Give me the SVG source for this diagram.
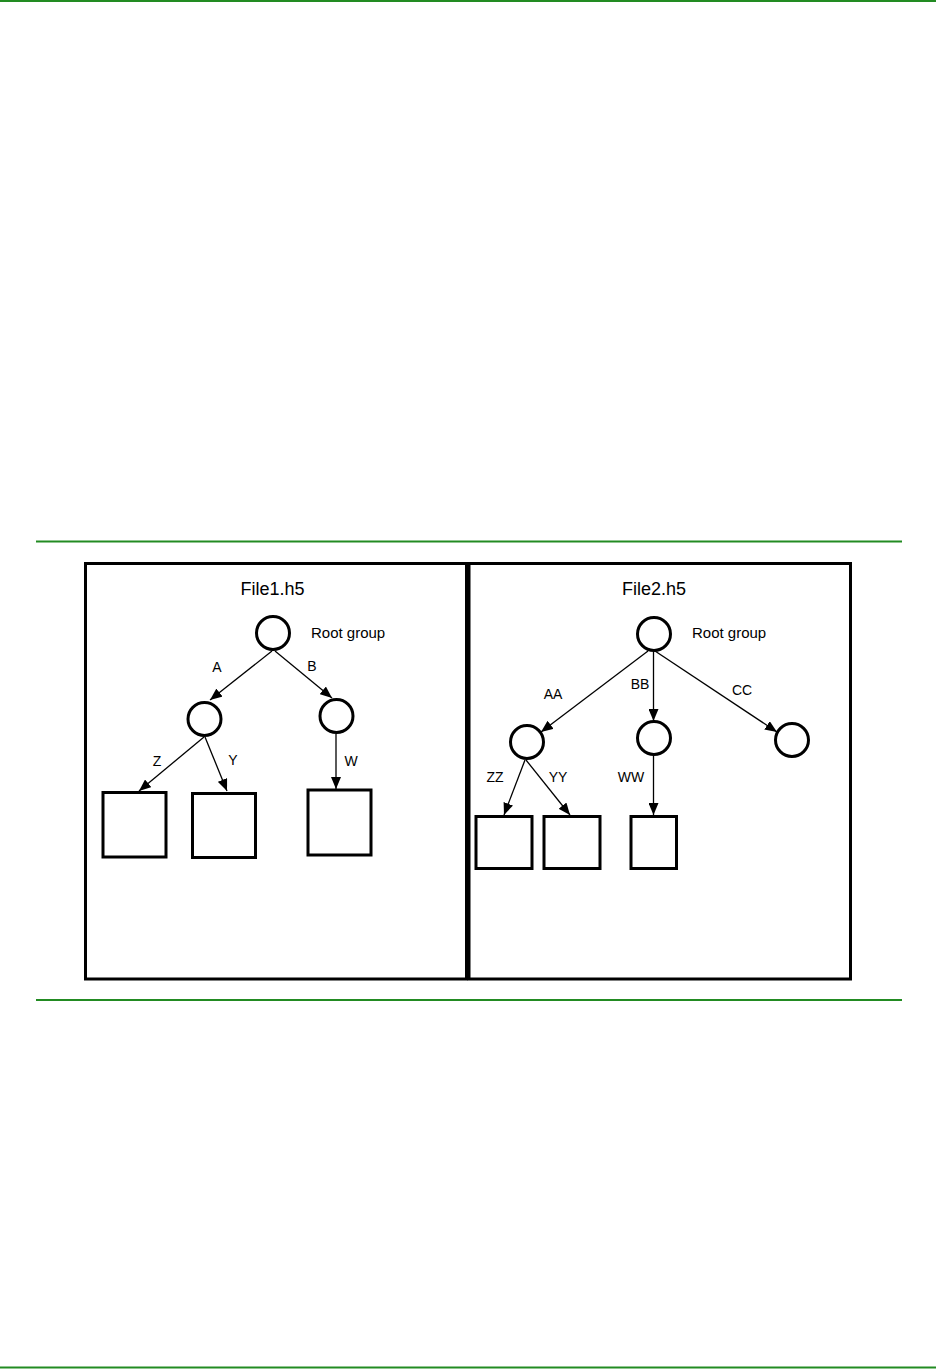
<svg xmlns="http://www.w3.org/2000/svg" width="936" height="1369" viewBox="0 0 936 1369">
<style>
.rule{stroke:#228b22;stroke-width:2;fill:none}
.frame{fill:none;stroke:#000;stroke-width:3}
.node{fill:#fff;stroke:#000;stroke-width:3}
.leaf{fill:#fff;stroke:#000;stroke-width:3}
.edge{stroke:#000;stroke-width:1.3;fill:none;marker-end:url(#arr)}
.title{font-family:"Liberation Sans",Arial,sans-serif;font-size:18px;fill:#000;text-anchor:middle}
.lbl{font-family:"Liberation Sans",Arial,sans-serif;font-size:14px;fill:#000;text-anchor:middle}
.root{font-family:"Liberation Sans",Arial,sans-serif;font-size:15px;fill:#000}
</style>
<defs>
<marker id="arr" markerUnits="userSpaceOnUse" markerWidth="12" markerHeight="10" refX="12" refY="5" orient="auto">
<path d="M0,0 L12,5 L0,10 Z" fill="#000"/>
</marker>
</defs>
<rect width="936" height="1369" fill="#fff"/>
<g id="rules">
<line class="rule" x1="0" y1="1" x2="936" y2="1"/>
<line class="rule" x1="36" y1="541.5" x2="902" y2="541.5"/>
<line class="rule" x1="36" y1="1000" x2="902" y2="1000"/>
<line class="rule" x1="0" y1="1367.5" x2="936" y2="1367.5"/>
</g>
<g id="file1">
<rect class="frame" x="85.5" y="563.5" width="381" height="415.5"/>
<text class="title" x="272.5" y="595">File1.h5</text>
</g>
<g id="file2">
<rect class="frame" x="469" y="563.5" width="381.5" height="415.5"/>
<text class="title" x="654" y="595">File2.h5</text>
</g>
<g id="connectors">
<line class="edge" x1="272" y1="651" x2="210" y2="700"/>
<line class="edge" x1="275" y1="651" x2="332" y2="698"/>
<line class="edge" x1="204" y1="737" x2="139" y2="791"/>
<line class="edge" x1="205" y1="737" x2="227" y2="791"/>
<line class="edge" x1="336" y1="734" x2="336" y2="789"/>
<line class="edge" x1="648" y1="651" x2="541" y2="732"/>
<line class="edge" x1="653.5" y1="652" x2="653.5" y2="721"/>
<line class="edge" x1="655" y1="651" x2="777" y2="732"/>
<line class="edge" x1="525" y1="760" x2="504" y2="815"/>
<line class="edge" x1="526" y1="760" x2="570" y2="815"/>
<line class="edge" x1="653.5" y1="755" x2="653.5" y2="815"/>
</g>
<g id="edge-labels">
<text class="lbl" x="217" y="672">A</text>
<text class="lbl" x="312" y="671">B</text>
<text class="lbl" x="157" y="766">Z</text>
<text class="lbl" x="233" y="765">Y</text>
<text class="lbl" x="351" y="766">W</text>
<text class="lbl" x="553" y="699">AA</text>
<text class="lbl" x="640" y="689">BB</text>
<text class="lbl" x="742" y="695">CC</text>
<text class="lbl" x="495" y="782">ZZ</text>
<text class="lbl" x="558" y="782">YY</text>
<text class="lbl" x="631" y="782">WW</text>
</g>
<g id="root1">
<circle class="node" cx="273" cy="633" r="16.5"/>
<text class="root" x="311" y="638">Root group</text>
</g>
<g id="groupA"><circle class="node" cx="204.5" cy="719" r="16.5"/></g>
<g id="groupB"><circle class="node" cx="336.5" cy="716" r="16.5"/></g>
<g id="dsZ"><rect class="leaf" x="103" y="792.5" width="63" height="64.5"/></g>
<g id="dsY"><rect class="leaf" x="192.5" y="793.5" width="63" height="64"/></g>
<g id="dsW"><rect class="leaf" x="308" y="790" width="63" height="65"/></g>
<g id="root2">
<circle class="node" cx="654" cy="634" r="16.5"/>
<text class="root" x="692" y="638">Root group</text>
</g>
<g id="groupAA"><circle class="node" cx="527" cy="742" r="16.5"/></g>
<g id="groupBB"><circle class="node" cx="654" cy="738" r="16.5"/></g>
<g id="groupCC"><circle class="node" cx="792" cy="740" r="16.5"/></g>
<g id="dsZZ"><rect class="leaf" x="476" y="816.5" width="56" height="52"/></g>
<g id="dsYY"><rect class="leaf" x="544" y="816.5" width="56" height="52"/></g>
<g id="dsWW"><rect class="leaf" x="631" y="816.5" width="45.5" height="52"/></g>
</svg>
